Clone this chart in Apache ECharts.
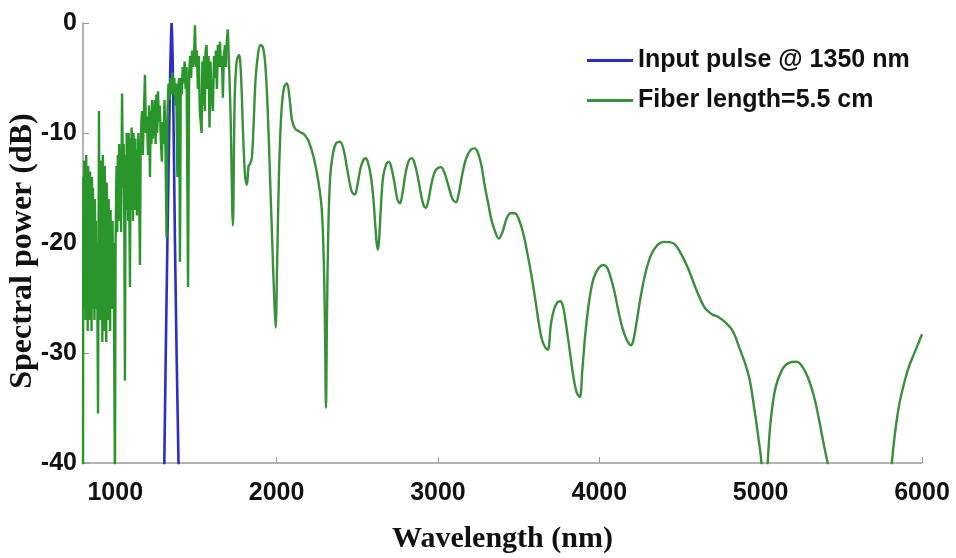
<!DOCTYPE html>
<html>
<head>
<meta charset="utf-8">
<script src="https://cdn.jsdelivr.net/npm/echarts@6/dist/echarts.min.js"></script>
<style>
  html, body { margin: 0; padding: 0; background: #ffffff; }
  #chart { width: 956px; height: 558px; }
</style>
</head>
<body>
<div id="chart"></div>
<script>
// Axis ticks
const xTicks = [1000, 2000, 3000, 4000, 5000, 6000];
const yTicks = [0, -10, -20, -30, -40];

// Input pulse spectrum centred at 1350 nm: [wavelength nm, power dB]
const inputPulse = [
  [1298, -46], [1304, -40], [1313, -30], [1323, -20], [1334, -10],
  [1341, -4], [1346, -1], [1349, 0], [1352, -1], [1356, -3.5],
  [1362, -10], [1370, -20], [1380, -30], [1392, -40], [1398, -46]
];

// Output spectrum after 5.5 cm of fiber, fast-oscillating short-wavelength part
const fiberNear = [
  [800, -41], [802, -14], [805, -26], [808, -12.5], [811, -24], [814, -13], [817, -27], [820, -12],
  [823, -22], [826, -14], [829, -28], [832, -13], [835, -25], [838, -15], [841, -27], [844, -13.5],
  [847, -23], [850, -16], [853, -28], [856, -14], [859, -26], [862, -15], [865, -25], [868, -17],
  [871, -27], [874, -16], [877, -22], [880, -18], [883, -26], [887, -20], [893, -35.5], [899, -8],
  [902, -20], [905, -13], [908, -27], [911, -12.5], [914, -24], [917, -14], [920, -29], [923, -12],
  [926, -26], [929, -15], [932, -28], [935, -13], [938, -22], [941, -16], [944, -29], [947, -14.5],
  [950, -25], [953, -17], [956, -27], [959, -16], [962, -23], [965, -18], [968, -28], [971, -17],
  [974, -22], [977, -19], [980, -26], [983, -18], [986, -24], [990, -20], [998, -42], [1002, -20],
  [1005, -16], [1008, -13], [1012, -19], [1016, -12], [1020, -18], [1024, -11], [1028, -17], [1032, -13],
  [1036, -19], [1042, -6.4], [1048, -15], [1052, -11], [1056, -18], [1060, -32.5], [1064, -12], [1068, -17],
  [1071, -10], [1074, -16], [1077, -11.5], [1080, -18], [1083, -10], [1086, -15], [1091, -24], [1095, -10.5],
  [1098, -17], [1101, -9.5], [1104, -15], [1107, -11], [1110, -18], [1113, -10], [1116, -16], [1119, -12],
  [1122, -17], [1125, -10.5], [1128, -15], [1131, -11.5], [1134, -17.5], [1137, -12], [1140, -16], [1143, -10],
  [1147, -14], [1153, -22], [1157, -12], [1162, -9], [1166, -8], [1171, -12], [1176, -9], [1184, -4.7],
  [1190, -10], [1196, -8.5], [1203, -12], [1209, -7.5], [1215, -14], [1220, -8], [1224, -11], [1228, -7],
  [1232, -10.5], [1240, -9.5], [1245, -7], [1250, -11], [1255, -6.5], [1260, -10], [1265, -6.2], [1270, -9],
  [1276, -7.5], [1282, -10.5], [1289, -12.6], [1294, -9], [1300, -11], [1305, -7], [1310, -10], [1318, -19.5],
  [1324, -8], [1330, -5.5], [1336, -7], [1342, -5], [1348, -6.5], [1354, -4.5], [1360, -6.5], [1366, -5],
  [1372, -7.5], [1378, -5.5], [1385, -14], [1390, -6], [1396, -5], [1401, -21.7], [1406, -5], [1412, -6.5],
  [1418, -4], [1424, -5.5], [1430, -3.5], [1436, -6], [1442, -4], [1451, -24], [1458, -4.5], [1464, -3],
  [1470, -5], [1476, -2.5], [1482, -4], [1488, -3], [1494, -0.2], [1500, -4], [1506, -2.5], [1512, -6],
  [1518, -3], [1524, -8], [1535, -10], [1540, -3.5], [1545, -7.5], [1550, -3], [1555, -8], [1560, -2.5],
  [1566, -2], [1572, -6], [1578, -3], [1584, -9.5], [1590, -3.5], [1596, -6.5], [1605, -8], [1612, -3],
  [1618, -5], [1624, -2.5], [1630, -6], [1636, -2], [1642, -4], [1649, -1.7], [1655, -4], [1661, -3],
  [1667, -6.8], [1673, -3], [1680, -2], [1686, -4], [1692, -1.5], [1698, -0.6]
];

// Output spectrum, smoothly varying long-wavelength part
const fiberFar = [
  [1698, -0.6], [1714, -8], [1729, -18.4], [1740, -7], [1752, -3.5], [1767, -2.9], [1780, -5], [1792, -10],
  [1805, -14], [1816, -14.7], [1826, -13], [1836, -12.8], [1847, -12.2], [1858, -9], [1870, -5], [1885, -2.8],
  [1900, -2], [1915, -2.2], [1930, -3.8], [1945, -8], [1958, -13.5], [1972, -19.5], [1985, -25], [1994, -27.7],
  [2003, -22], [2015, -13.5], [2030, -8], [2047, -5.8], [2064, -5.5], [2080, -6.8], [2095, -8.8], [2114, -9.6],
  [2145, -9.9], [2175, -10.2], [2200, -10.8], [2231, -12.3], [2260, -14.5], [2280, -17], [2293, -22], [2300, -28],
  [2306, -35], [2312, -27], [2320, -19], [2332, -14], [2350, -11.8], [2370, -10.9], [2392, -10.8], [2415, -11.5],
  [2440, -13.5], [2465, -15.3], [2485, -15.6], [2500, -14.8], [2520, -13.2], [2540, -12.4], [2553, -12.3], [2568, -12.8],
  [2585, -14], [2600, -16], [2612, -18.5], [2620, -20], [2628, -20.6], [2636, -19.5], [2646, -16.8], [2660, -14],
  [2680, -12.8], [2696, -12.6], [2712, -13.2], [2730, -14.5], [2748, -16], [2764, -16.4], [2780, -15.5], [2800, -13.6],
  [2820, -12.5], [2838, -12.3], [2856, -12.8], [2875, -14], [2895, -15.6], [2912, -16.6], [2925, -16.8], [2942, -16],
  [2960, -14.6], [2985, -13.4], [3018, -13.1], [3040, -13.6], [3065, -14.8], [3090, -16], [3111, -16.3], [3130, -15.4],
  [3150, -13.8], [3175, -12.3], [3205, -11.5], [3229, -11.4], [3250, -11.9], [3270, -13], [3290, -14.8], [3310, -16.3],
  [3330, -17.8], [3350, -18.8], [3378, -19.6], [3400, -19], [3425, -17.8], [3450, -17.3], [3477, -17.3], [3505, -18],
  [3530, -19.2], [3555, -21], [3580, -23], [3605, -25.3], [3625, -27.3], [3645, -28.8], [3665, -29.5], [3681, -29.7],
  [3700, -27.4], [3720, -26], [3740, -25.4], [3757, -25.3], [3774, -25.7], [3792, -27.2], [3815, -29.6], [3840, -32.2],
  [3860, -33.6], [3879, -34], [3895, -31.5], [3915, -28], [3940, -25], [3965, -23.2], [3995, -22.3], [4025, -22],
  [4047, -22.2], [4070, -23.1], [4095, -24.5], [4120, -26.3], [4145, -27.8], [4170, -28.8], [4195, -29.3], [4210, -28.9],
  [4230, -27.3], [4255, -25], [4285, -22.8], [4320, -21.1], [4360, -20.2], [4400, -19.9], [4456, -20], [4500, -20.8],
  [4550, -22.3], [4600, -24.2], [4650, -25.8], [4700, -26.5], [4735, -26.7], [4780, -27.2], [4827, -28], [4870, -29.6],
  [4905, -31], [4933, -32.5], [4960, -35], [4985, -37.6], [5005, -40], [5026, -46], [5040, -41], [5060, -36.5],
  [5090, -33.3], [5130, -31.6], [5175, -30.9], [5224, -30.8], [5265, -31.4], [5300, -32.5], [5335, -34.2], [5365, -36.3],
  [5395, -38.6], [5428, -41], [5460, -45], [5500, -50], [5760, -50], [5790, -44], [5813, -40], [5835, -37],
  [5860, -34.6], [5890, -32.7], [5920, -31.2], [5950, -30.1], [5975, -29.2], [6000, -28.3]
];

const seriesNames = ['Input pulse @ 1350 nm', 'Fiber length=5.5 cm'];
const blue = '#2d2dc8';
const green = '#3a8f3a';
const greenDense = '#2a952a';

const axisGray = '#9a9a9a';
const tickFont = {
  fontFamily: '"Liberation Sans", Arial, sans-serif',
  fontWeight: 'bold',
  fontSize: 25,
  color: '#111111'
};
const nameFont = {
  fontFamily: '"Liberation Serif", "Times New Roman", serif',
  fontWeight: 'bold',
  fontSize: 30,
  color: '#111111'
};

const chart = echarts.init(document.getElementById('chart'), null, { renderer: 'canvas' });
chart.setOption({
  animation: false,
  backgroundColor: '#ffffff',
  grid: { left: 83, right: 34, top: 23, bottom: 95, containLabel: false, outerBoundsMode: 'none' },
  legend: {
    orient: 'vertical',
    left: 582,
    top: 43,
    data: seriesNames,
    icon: 'rect',
    itemWidth: 46,
    itemHeight: 3,
    itemGap: 15,
    textStyle: {
      fontFamily: '"Liberation Sans", Arial, sans-serif',
      fontWeight: 'bold',
      fontSize: 25,
      color: '#111111'
    }
  },
  xAxis: {
    type: 'value',
    min: 800,
    max: 6000,
    name: 'Wavelength (nm)',
    nameLocation: 'middle',
    nameGap: 61,
    nameMoveOverlap: false,
    nameTextStyle: nameFont,
    splitLine: { show: false },
    axisLine: { onZero: false, lineStyle: { color: axisGray, width: 1.5 } },
    axisTick: { inside: true, length: 6, customValues: xTicks, lineStyle: { color: axisGray } },
    axisLabel: { customValues: xTicks, margin: 18, formatter: v => String(v), ...tickFont }
  },
  yAxis: {
    type: 'value',
    min: -40,
    max: 0,
    interval: 10,
    name: 'Spectral power (dB)',
    nameLocation: 'middle',
    nameRotate: 90,
    nameGap: 44,
    nameMoveOverlap: false,
    nameTextStyle: { ...nameFont, fontSize: 32, padding: [0, 16, 0, 0] },
    splitLine: { show: false },
    axisLine: { show: true, onZero: false, lineStyle: { color: axisGray, width: 1.5 } },
    axisTick: { show: true, inside: true, length: 6, lineStyle: { color: axisGray } },
    axisLabel: { margin: 6, formatter: v => String(v), ...tickFont }
  },
  series: [
    {
      name: seriesNames[0],
      type: 'line',
      data: inputPulse,
      showSymbol: false,
      smooth: false,
      clip: true,
      z: 2,
      lineStyle: { color: blue, width: 2.6 },
      itemStyle: { color: blue }
    },
    {
      name: seriesNames[1],
      type: 'line',
      data: fiberNear,
      showSymbol: false,
      smooth: false,
      clip: true,
      z: 3,
      lineStyle: { color: greenDense, width: 2.4 },
      itemStyle: { color: green }
    },
    {
      name: seriesNames[1],
      type: 'line',
      data: fiberFar,
      showSymbol: false,
      smooth: 0.35,
      clip: true,
      z: 3,
      lineStyle: { color: green, width: 2.4 },
      itemStyle: { color: green }
    }
  ]
});
</script>
</body>
</html>
